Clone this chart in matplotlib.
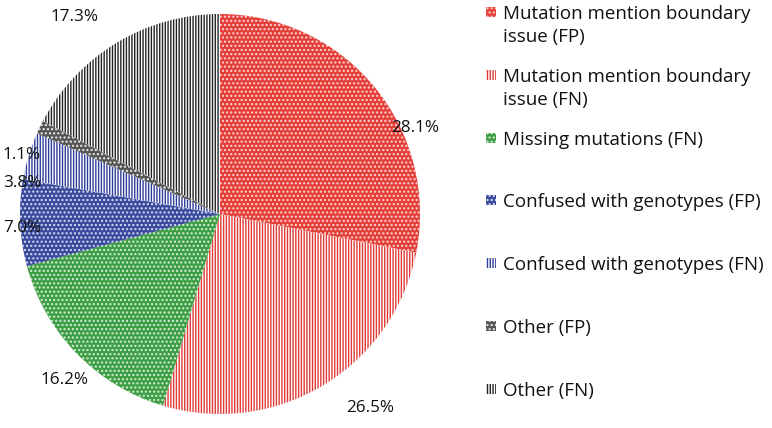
import matplotlib
matplotlib.use("Agg")
import matplotlib.pyplot as plt
from matplotlib.patches import Rectangle

plt.rcParams['font.family'] = ['Open Sans', 'DejaVu Sans']
plt.rcParams['hatch.linewidth'] = 1.0

categories = ["Mutation mention boundary\nissue (FP)",
              "Mutation mention boundary\nissue (FN)",
              "Missing mutations (FN)",
              "Confused with genotypes (FP)",
              "Confused with genotypes (FN)",
              "Other (FP)",
              "Other (FN)"]
values = [28.1, 26.5, 16.2, 7.0, 3.8, 1.1, 17.3]
pct_labels = ["28.1%", "26.5%", "16.2%", "7.0%", "3.8%", "1.1%", "17.3%"]

# style: (facecolor, hatch colour, hatch)
styles = [("#e4403a", "#ffd6d2", "...."),
          ("#ffffff", "#e03a36", "||||||"),
          ("#3e9e45", "#d8f0d8", "...."),
          ("#3a4b9c", "#d6dcf4", "...."),
          ("#ffffff", "#2e3f9a", "||||||"),
          ("#555555", "#eeeeee", "...."),
          ("#ffffff", "#222222", "||||||")]
label_pos = [(0.975, 0.43), (0.75, -0.97), (-0.775, -0.83), (-0.99, -0.07),
             (-0.99, 0.155), (-0.99, 0.295), (-0.725, 0.985)]

fig = plt.figure(figsize=(7.72, 4.28), dpi=100)
ax = fig.add_axes([20/772, 14/428, 400/772, 400/428])
wedges, _ = ax.pie(values, startangle=90, counterclock=False, radius=1.0,
                   wedgeprops=dict(linewidth=0))
for w, (fc, hc, h) in zip(wedges, styles):
    w.set_facecolor(fc)
    w.set_edgecolor(hc)
    w.set_hatch(h)
    w.set_linewidth(0)
ax.set_xlim(-1, 1)
ax.set_ylim(-1, 1)
ax.set_aspect('equal')
ax.axis('off')

for txt, (x, y) in zip(pct_labels, label_pos):
    ax.text(x, y, txt, ha='center', va='center', fontsize=12.3, color='#111111',
            clip_on=False)

# legend
top0 = 6
step = 62.8
for i, (cat, (fc, hc, h)) in enumerate(zip(categories, styles)):
    ycap = top0 + i * step
    r = Rectangle((486/772, 1 - (ycap + 11)/428), 10/772, 10/428,
                  transform=fig.transFigure, facecolor=fc, edgecolor=hc,
                  hatch=h, linewidth=0)
    fig.patches.append(r)
    fig.text(503/772, 1 - (ycap - 1)/428, cat, ha='left', va='top',
             fontsize=13.5, color='#111111', linespacing=1.38)

fig.savefig("out.png", dpi=100)
